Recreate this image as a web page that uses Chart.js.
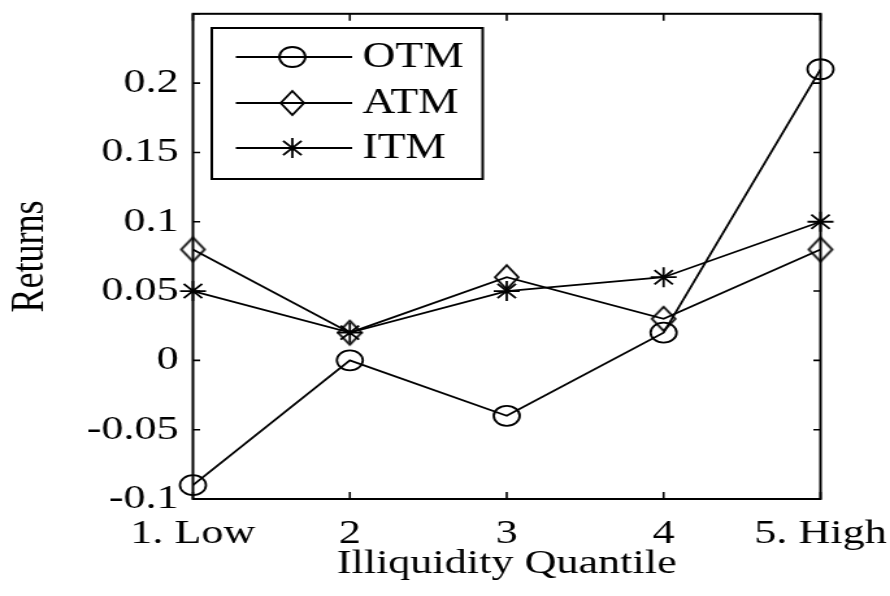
<!DOCTYPE html>
<html>
<head>
<meta charset="utf-8">
<script src="https://cdn.jsdelivr.net/npm/chart.js@4/dist/chart.umd.min.js"></script>
<style>
  html, body { margin: 0; padding: 0; background: #fff; overflow: hidden; }
  canvas { display: block; }
</style>
</head>
<body>
<!-- drawn on a narrower canvas and stretched horizontally, like the printed figure -->
<canvas id="c" width="685" height="596" style="width:890px;height:596px"></canvas>
<script>
const quantiles = ['1. Low', '2', '3', '4', '5. High'];
const otm = [-0.09, 0.00, -0.04, 0.02, 0.21];
const atm = [0.08, 0.02, 0.06, 0.03, 0.08];
const itm = [0.05, 0.02, 0.05, 0.06, 0.10];
const seriesNames = ['OTM', 'ATM', 'ITM'];
const yTickValues = [-0.1, -0.05, 0, 0.05, 0.1, 0.15, 0.2];

const FONT = 'Liberation Serif, Times New Roman, serif';
const INK = '#000';
const LINE_W = 1.8;

// open diamond, taller than wide
function diamondMarker() {
  const c = document.createElement('canvas');
  c.width = 22; c.height = 28;
  const g = c.getContext('2d');
  g.strokeStyle = INK; g.lineWidth = LINE_W;
  g.beginPath();
  g.moveTo(11, 2); g.lineTo(20, 14); g.lineTo(11, 26); g.lineTo(2, 14);
  g.closePath(); g.stroke();
  return c;
}
const diamond = diamondMarker();

const markerStyles = [
  { pointStyle: 'circle', radius: 10 },
  { pointStyle: diamond, radius: 12 },
  { pointStyle: 'star', radius: 10 }
];

function series(label, data, m) {
  return {
    label, data,
    borderColor: INK, borderWidth: LINE_W,
    backgroundColor: 'rgba(0,0,0,0)',
    pointStyle: m.pointStyle, pointRadius: m.radius, pointHoverRadius: m.radius,
    pointBorderColor: INK, pointBackgroundColor: 'rgba(0,0,0,0)', pointBorderWidth: LINE_W,
    tension: 0, fill: false
  };
}

// box around the plot with inward tick marks on all four sides
const frame = {
  id: 'frame',
  afterDraw(chart) {
    const { ctx, chartArea: a, scales } = chart;
    ctx.save();
    ctx.strokeStyle = INK; ctx.lineWidth = 2;
    ctx.strokeRect(a.left, a.top, a.right - a.left, a.bottom - a.top);
    ctx.lineWidth = 1.6;
    ctx.beginPath();
    scales.y.ticks.forEach(t => {
      const py = scales.y.getPixelForValue(t.value);
      ctx.moveTo(a.left, py); ctx.lineTo(a.left + 5.5, py);
      ctx.moveTo(a.right - 5.5, py); ctx.lineTo(a.right, py);
    });
    quantiles.forEach((q, i) => {
      const px = scales.x.getPixelForValue(i);
      ctx.moveTo(px, a.bottom); ctx.lineTo(px, a.bottom - 7);
      ctx.moveTo(px, a.top); ctx.lineTo(px, a.top + 7);
    });
    ctx.stroke();
    ctx.restore();
  }
};

// boxed legend in the upper-left corner of the plot
const boxLegend = {
  id: 'boxLegend',
  afterDraw(chart) {
    const { ctx } = chart;
    const box = { l: 163, r: 371.5, t: 28, b: 179 };
    const rows = [57, 103, 148];
    ctx.save();
    ctx.fillStyle = '#fff';
    ctx.fillRect(box.l, box.t, box.r - box.l, box.b - box.t);
    ctx.strokeStyle = INK; ctx.lineWidth = 2;
    ctx.strokeRect(box.l, box.t, box.r - box.l, box.b - box.t);
    chart.data.datasets.forEach((ds, i) => {
      const y = rows[i];
      ctx.strokeStyle = INK; ctx.lineWidth = LINE_W;
      ctx.beginPath(); ctx.moveTo(181.5, y); ctx.lineTo(271, y); ctx.stroke();
      ctx.fillStyle = 'rgba(0,0,0,0)';
      Chart.helpers.drawPoint(ctx, {
        pointStyle: ds.pointStyle, radius: ds.pointRadius, rotation: 0, borderWidth: LINE_W
      }, 225, y);
      ctx.fillStyle = INK;
      ctx.font = '35px ' + FONT;
      ctx.textBaseline = 'middle';
      ctx.textAlign = 'left';
      ctx.fillText(ds.label, 279, y + 1);
    });
    ctx.restore();
  }
};

function clearPadding(s) {
  s.paddingTop = 0; s.paddingBottom = 0; s.paddingLeft = 0; s.paddingRight = 0;
}

new Chart(document.getElementById('c'), {
  type: 'line',
  data: {
    labels: quantiles,
    datasets: [
      series(seriesNames[0], otm, markerStyles[0]),
      series(seriesNames[1], atm, markerStyles[1]),
      series(seriesNames[2], itm, markerStyles[2])
    ]
  },
  options: {
    responsive: false,
    devicePixelRatio: 1,
    animation: false,
    events: [],
    layout: { padding: { top: 12, right: 53.5, left: 0, bottom: 0 } },
    plugins: { legend: { display: false }, tooltip: { enabled: false } },
    scales: {
      x: {
        type: 'category',
        offset: false,
        grid: { display: false, drawTicks: false },
        border: { display: false },
        ticks: { color: INK, font: { family: FONT, size: 34 }, padding: 15, maxRotation: 0, autoSkip: false },
        title: {
          display: true, text: 'Illiquidity Quantile', color: INK,
          font: { family: FONT, size: 34 }, padding: { top: 0, bottom: 12 }
        },
        afterFit(s) { s.height = 97; clearPadding(s); }
      },
      y: {
        min: -0.1, max: 0.25,
        grid: { display: false, drawTicks: false },
        border: { display: false },
        ticks: {
          stepSize: 0.05, color: INK, padding: 11,
          font: { family: FONT, size: 34 },
          callback(v) {
            const r = Math.round(v * 100) / 100;
            return yTickValues.some(t => Math.abs(t - r) < 1e-9) ? String(r) : '';
          }
        },
        title: {
          display: true, text: 'Returns', color: INK,
          font: { family: FONT, size: 36 }, padding: { top: 2, bottom: 0 }
        },
        afterFit(s) { s.width = 148.5; clearPadding(s); }
      }
    }
  },
  plugins: [frame, boxLegend]
});
</script>
</body>
</html>
